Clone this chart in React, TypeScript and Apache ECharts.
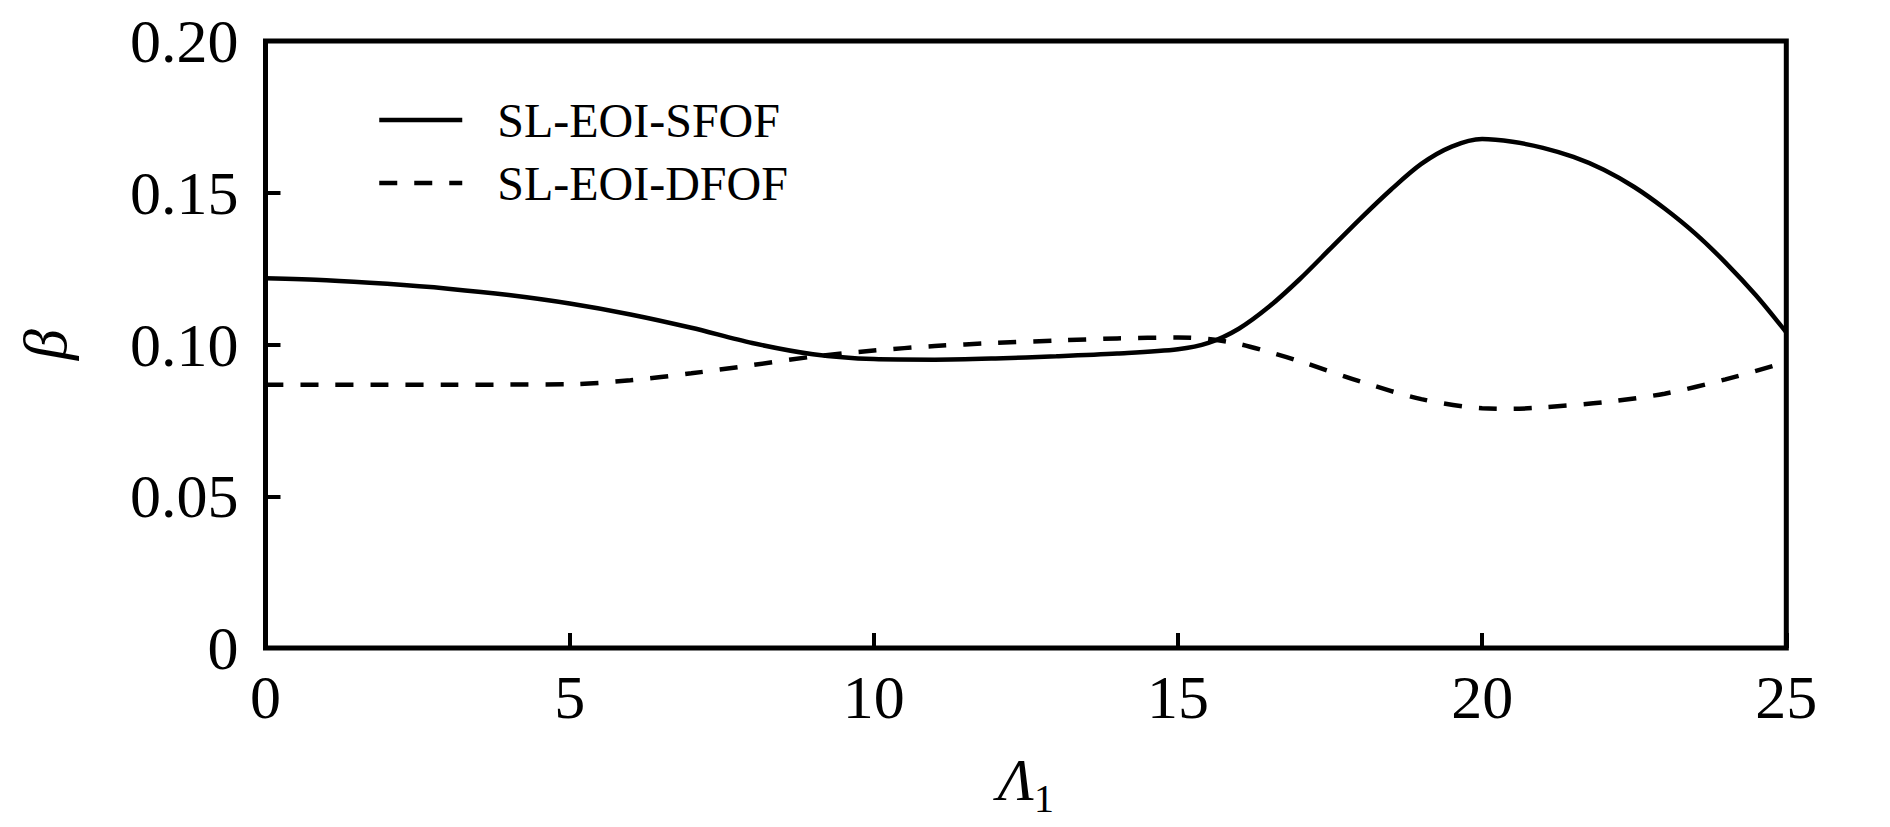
import React, { useEffect, useRef } from "react";
import * as echarts from "echarts";

const seriesNames = ["SL-EOI-SFOF", "SL-EOI-DFOF"];

const sfofX = [0, 1, 2, 3, 4, 5, 6, 7, 8, 9, 10, 11, 12, 13, 14, 15, 15.5, 16, 16.5, 17, 17.5, 18, 18.5, 19, 19.5, 20, 20.5, 21, 21.5, 22, 22.5, 23, 23.5, 24, 24.5, 25];
const sfofY = [0.1218, 0.1212, 0.12, 0.1184, 0.1163, 0.1135, 0.1099, 0.1055, 0.1005, 0.0968, 0.0952, 0.095, 0.0954, 0.0961, 0.097, 0.0984, 0.1005, 0.1052, 0.1125, 0.1215, 0.1315, 0.1415, 0.151, 0.1595, 0.1652, 0.1677, 0.1668, 0.1648, 0.1618, 0.1576, 0.1519, 0.1448, 0.1366, 0.127, 0.1162, 0.104];

const dfofX = [0, 1, 2, 3, 4, 5, 6, 7, 8, 9, 10, 11, 12, 13, 14, 15, 15.5, 16, 16.5, 17, 18, 19, 20, 20.5, 21, 22, 23, 24, 25];
const dfofY = [0.0867, 0.0867, 0.0867, 0.0867, 0.0868, 0.0869, 0.0882, 0.0905, 0.0932, 0.096, 0.098, 0.0995, 0.1005, 0.1013, 0.102, 0.1023, 0.1018, 0.1002, 0.0975, 0.0945, 0.0878, 0.082, 0.079, 0.0788, 0.0793, 0.081, 0.0838, 0.0885, 0.0942];

const xTicks = { min: 0, max: 25, interval: 5 };
const yTicks = { min: 0, max: 0.2, interval: 0.05 };

const FONT = "'Liberation Serif', 'DejaVu Serif', serif";

export default function App() {
  const ref = useRef<HTMLDivElement>(null);
  useEffect(() => {
    document.body.style.margin = "0";
    const chart = echarts.init(ref.current!, null, { renderer: "svg" });
    const pair = (xs: number[], ys: number[]) => xs.map((x, i) => [x, ys[i]]);
    chart.setOption({
      animation: false,
      backgroundColor: "#fff",
      grid: {
        left: 265.5,
        right: 103.7,
        top: 41,
        bottom: 179,
        show: true,
        borderColor: "#000",
        borderWidth: 5,
        backgroundColor: "transparent",
      },
      legend: {
        orient: "vertical",
        left: 377,
        top: 95,
        itemWidth: 83,
        itemHeight: 14,
        itemGap: 13,
        padding: 0,
        itemStyle: { opacity: 0 },
        lineStyle: { width: 4.5 },
        textStyle: {
          fontFamily: FONT,
          fontSize: 48,
          color: "#000",
          lineHeight: 50,
          padding: [0, 0, 0, 30],
        },
        data: seriesNames,
      },
      xAxis: {
        type: "value",
        min: xTicks.min,
        max: xTicks.max,
        interval: xTicks.interval,
        axisLine: { show: false },
        axisTick: { show: true, inside: true, length: 15, lineStyle: { color: "#000", width: 4 } },
        splitLine: { show: false },
        axisLabel: {
          margin: 18,
          fontFamily: FONT,
          fontSize: 62,
          color: "#000",
        },
        name: "{a|Λ}{s|1}",
        nameLocation: "middle",
        nameGap: 94,
        nameTextStyle: {
          rich: {
            a: { fontFamily: FONT, fontStyle: "italic", fontSize: 60, lineHeight: 76, color: "#000" },
            s: { fontFamily: FONT, fontSize: 40, lineHeight: 40, verticalAlign: "bottom", color: "#000" },
          },
        },
      },
      yAxis: {
        type: "value",
        min: yTicks.min,
        max: yTicks.max,
        interval: yTicks.interval,
        axisLine: { show: false },
        axisTick: { show: true, inside: true, length: 15, lineStyle: { color: "#000", width: 4 } },
        splitLine: { show: false },
        axisLabel: {
          margin: 27,
          fontFamily: FONT,
          fontSize: 62,
          color: "#000",
          formatter: (v: number) => (v === 0 ? "0" : v.toFixed(2)),
        },
        name: "β",
        nameLocation: "middle",
        nameGap: 190,
        nameTextStyle: { fontFamily: FONT, fontStyle: "italic", fontSize: 62, color: "#000" },
      },
      series: [
        {
          name: seriesNames[0],
          type: "line",
          data: pair(sfofX, sfofY),
          smooth: 0.3,
          symbol: "none",
          lineStyle: { color: "#000", width: 4.5, type: "solid" },
          itemStyle: { color: "#000" },
          clip: true,
        },
        {
          name: seriesNames[1],
          type: "line",
          data: pair(dfofX, dfofY),
          smooth: 0.3,
          symbol: "none",
          lineStyle: { color: "#000", width: 4.5, type: [18, 17] },
          itemStyle: { color: "#000" },
          clip: true,
        },
      ],
    });
    return () => chart.dispose();
  }, []);
  return <div ref={ref} style={{ width: 1890, height: 827 }} />;
}
